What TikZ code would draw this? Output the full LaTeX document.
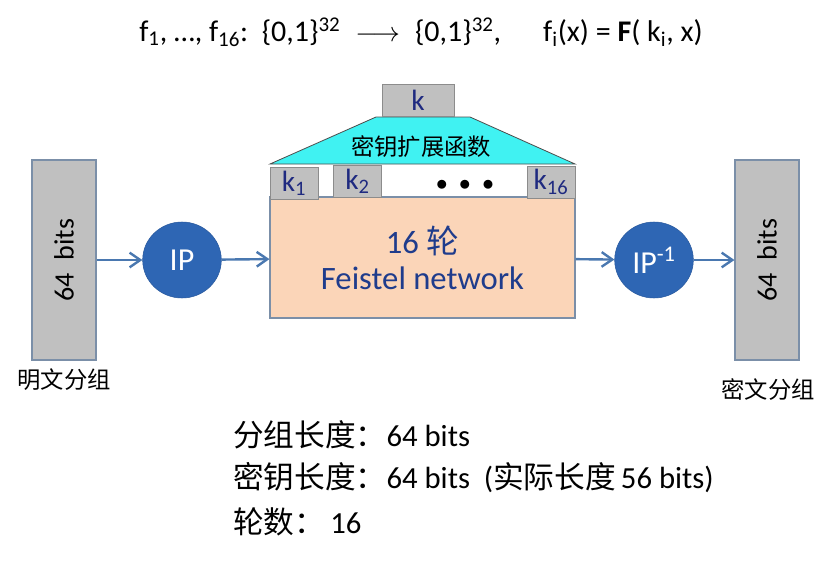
\documentclass[tikz,border=0pt]{standalone}
\usepackage{fontspec}
\setmainfont{Carlito}
\newfontfamily\cjk{Noto Sans CJK SC}
\usepackage{tikz}
\usetikzlibrary{arrows.meta, positioning, shapes.geometric}
\definecolor{barGray}{HTML}{C0C0C0}
\definecolor{barFrame}{HTML}{7B8FA8}
\definecolor{keyFrame}{HTML}{8C8C8C}
\definecolor{keyNavy}{HTML}{1F2A80}
\definecolor{ipBlue}{HTML}{2E66B4}
\definecolor{ipFrame}{HTML}{2A5A9E}
\definecolor{arrowBlue}{HTML}{4A78B0}
\definecolor{peach}{HTML}{FBD5B8}
\definecolor{roundNavy}{HTML}{1F3C8C}
\definecolor{expCyan}{HTML}{40F2F2}
\tikzset{
    bar/.style={rectangle, draw=barFrame, fill=barGray, line width=0.8pt, minimum width=48pt, minimum height=150pt, inner sep=0pt},
    bartext/.style={rotate=90, font=\fontsize{21}{24}\selectfont},
    keybox/.style={rectangle, draw=keyFrame, fill=barGray, line width=0.6pt, minimum width=36pt, minimum height=24pt, inner sep=0pt, text=keyNavy, font=\fontsize{22}{24}\selectfont},
    perm/.style={ellipse, draw=ipFrame, fill=ipBlue, minimum width=59pt, minimum height=57pt, inner sep=0pt, text=white, font=\fontsize{24}{26}\selectfont},
    rounds/.style={rectangle, draw=barFrame, fill=peach, line width=0.8pt, minimum width=228.75pt, minimum height=90.75pt, align=center, text=roundNavy, font=\fontsize{24.5}{27}\selectfont},
    caption/.style={font=\fontsize{17.5}{20}\selectfont\cjk},
    info/.style={anchor=west, inner sep=0pt, font=\fontsize{23}{26}\selectfont},
    arrow/.style={-{Straight Barb[length=8pt, width=11pt]}, line width=1.8pt, draw=arrowBlue}
}
\begin{document}
\begin{tikzpicture}[x=0.75pt, y=-0.75pt]
        \useasboundingbox (0,0) rectangle (837,560);

        % --- Round functions ---
        \node (formula) at (421,32) [font=\fontsize{22.5}{26}\selectfont]
            {f\textsubscript{1}, \dots, f\textsubscript{16}:\ \ \{0,1\}\textsuperscript{32}\enspace$\longrightarrow$\enspace\{0,1\}\textsuperscript{32},\hspace{1.4em}f\textsubscript{i}(x) = \textbf{F}( k\textsubscript{i}, x)};

        % --- Plaintext / ciphertext blocks ---
        \node (plain) [bar] at (64,260) {};
        \node [bartext] at (plain) {64\ \ bits};
        \node (plainlabel) [caption] at (64,380) {明文分组};

        \node (cipher) [bar] at (767,260) {};
        \node [bartext] at (cipher) {64\ \ bits};
        \node (cipherlabel) [caption] at (768,390) {密文分组};

        % --- Permutations ---
        \node (IP) [perm] at (182,260) {IP};
        \node (IPinv) [perm] at (654,260) {IP\textsuperscript{-1}};

        % --- 16 rounds ---
        \node (Feistel) [rounds] at (422.5,257.5) {16 {\cjk 轮}\\Feistel network};

        % --- Key schedule ---
        \coordinate (expBL) at (270,164);
        \coordinate (expTL) at (376,117);
        \coordinate (expTR) at (470,117);
        \coordinate (expBR) at (575,164);
        \draw [draw=black!70, fill=expCyan, line width=0.6pt] (expBL) -- (expTL) -- (expTR) -- (expBR) -- cycle;
        \node (expand) [font=\fontsize{17.5}{20}\selectfont\cjk] at (421,147) {密钥扩展函数};

        \node (k) [keybox, minimum width=54pt] at (418,100) {k};
        \node (k1) [keybox] at (294,183) {k\textsubscript{1}};
        \node (k2) [keybox] at (357.5,181.5) {k\textsubscript{2}};
        \node (dots) at (465,185) [font=\fontsize{19}{20}\selectfont] {$\bullet\;\bullet\;\bullet$};
        \node (k16) [keybox] at (551,182) {k\textsubscript{16}};

        % --- Arrows ---
        \draw [arrow] (plain) -- (IP);
        \draw [arrow] (IP) -- (Feistel);
        \draw [arrow] (Feistel) -- (IPinv);
        \draw [arrow] (IPinv) -- (cipher);

        % --- Parameters ---
        \node (blocklen) [info] at (233,435) {{\cjk 分组长度：}64 bits};
        \node (keylen) [info] at (233,478) {{\cjk 密钥长度：}64 bits\ \ ({\cjk 实际长度}\,56 bits)};
        \node (nrounds) [info] at (233,522) {{\cjk 轮数：}\,16};
    \end{tikzpicture}
\end{document}
